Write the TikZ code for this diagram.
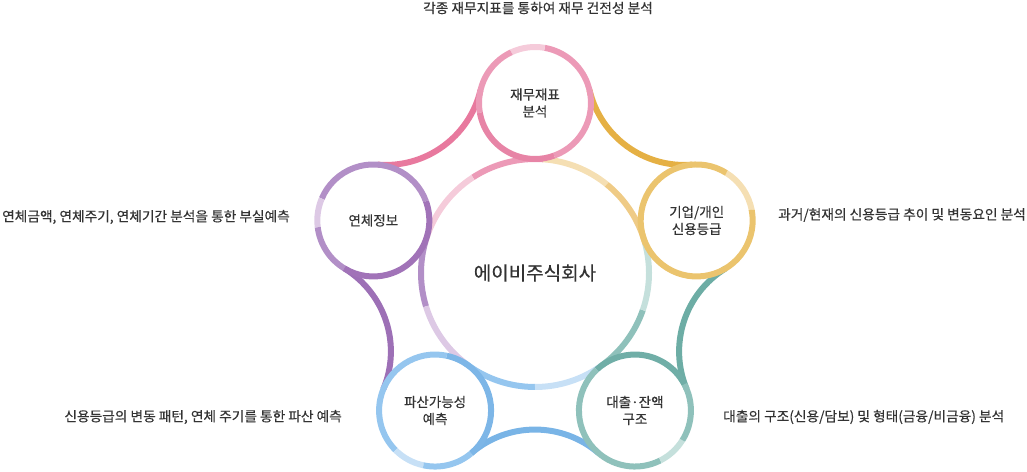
\documentclass[tikz,border=0pt]{standalone}
\usepackage{fontspec}
\setmainfont{Noto Sans CJK KR}[BoldFont={Noto Sans CJK KR},BoldFeatures={FakeBold=0.35}]
\definecolor{txt}{HTML}{333333}
% connectors
\definecolor{cpink}{HTML}{E8799E}
\definecolor{cgold}{HTML}{E5B044}
\definecolor{cteal}{HTML}{6DADA5}
\definecolor{cblue}{HTML}{79B4E6}
\definecolor{cpurp}{HTML}{9D70B6}
% ring shades
\definecolor{pkD}{HTML}{E784A6}
\definecolor{pkM}{HTML}{EC9AB7}
\definecolor{pkL}{HTML}{F5CBDA}
\definecolor{yeM}{HTML}{EBC46E}
\definecolor{yeC}{HTML}{EFCB86}
\definecolor{yeL}{HTML}{F5DFB3}
\definecolor{tlD}{HTML}{70AEA7}
\definecolor{tlM}{HTML}{8FC1BB}
\definecolor{tlL}{HTML}{C5E0DC}
\definecolor{blD}{HTML}{7DB6E7}
\definecolor{blM}{HTML}{95C6EF}
\definecolor{blL}{HTML}{C7E0F6}
\definecolor{puD}{HTML}{A173B8}
\definecolor{puM}{HTML}{B28FC7}
\definecolor{puL}{HTML}{DDC9E5}
\newcommand\rseg[5]{\draw[ring,draw=#5] (#1) ++(#3:#2) arc[start angle=#3,end angle=#4,radius=#2];}
\newcommand\conn[2]{\draw[ring,draw=#2] ($(O)+(#1:254)$) ++(#1+139.37:97.46) arc[start angle=#1+139.37,end angle=#1+220.63,radius=97.46];}
\usetikzlibrary{calc}
\begin{document}
\begin{tikzpicture}[x=1pt,y=1pt,line cap=butt,
  ring/.style={line width=6pt},
  sat/.style={text=txt,align=center,font=\fontsize{13.5}{17}\selectfont\bfseries},
  outer/.style={text=txt,font=\fontsize{13.7}{16}\selectfont\bfseries,inner sep=0pt}]
\useasboundingbox (0,0) rectangle (1027,471);
\begin{scope}[shift={(535,198)}]
\coordinate (O) at (0,0);
\coordinate (T) at (90:170);
\coordinate (R) at (18:170);
\coordinate (BR) at (-54:170);
\coordinate (BL) at (-126:170);
\coordinate (L) at (162:170);
% center ring
\rseg{O}{114}{51}{86}{yeL}
\rseg{O}{114}{86}{123}{pkM}
\rseg{O}{114}{123}{164}{pkL}
\rseg{O}{114}{164}{197}{puM}
\rseg{O}{114}{197}{232}{puL}
\rseg{O}{114}{232}{270}{blM}
\rseg{O}{114}{270}{306}{blL}
\rseg{O}{114}{306}{341}{tlM}
\rseg{O}{114}{341}{375}{tlL}
\rseg{O}{114}{15}{51}{yeC}
% connectors
\conn{126}{cpink}
\conn{54}{cgold}
\conn{-18}{cteal}
\conn{-90}{cblue}
\conn{198}{cpurp}
% top ring
\rseg{T}{56}{-70}{80}{pkM}
\rseg{T}{56}{80}{115}{pkL}
\rseg{T}{56}{115}{190}{pkM}
\rseg{T}{56}{190}{290}{pkD}
% right ring
\rseg{R}{56}{11}{58}{yeL}
\rseg{R}{56}{58}{371}{yeM}
% bottom-right ring
\rseg{BR}{56}{28}{133}{tlD}
\rseg{BR}{56}{133}{297}{tlM}
\rseg{BR}{56}{297}{328}{tlL}
\rseg{BR}{56}{328}{388}{tlM}
% bottom-left ring
\rseg{BL}{56}{-50}{78}{blD}
\rseg{BL}{56}{78}{225}{blM}
\rseg{BL}{56}{225}{258}{blL}
\rseg{BL}{56}{258}{310}{blM}
% left ring
\rseg{L}{56}{20}{157}{puM}
\rseg{L}{56}{157}{187}{puL}
\rseg{L}{56}{187}{239}{puM}
\rseg{L}{56}{239}{380}{puD}
% texts
\node[text=txt,font=\fontsize{19}{22}\selectfont\bfseries] (on) at (O) {에이비주식회사};
\node[sat] (tn) at (T) {재무재표\\분석};
\node[sat] (rn) at (R) {기업/개인\\신용등급};
\node[sat] (brn) at (BR) {대출·잔액\\구조};
\node[sat] (bln) at (BL) {파산가능성\\예측};
\node[sat] (ln) at (L) {연체정보};
\end{scope}
\node[outer] (tl) at (538,463) {각종 재무지표를 통하여 재무 건전성 분석};
\node[outer,anchor=east] (ll) at (290,254) {연체금액, 연체주기, 연체기간 분석을 통한 부실예측};
\node[outer,anchor=west] (rl) at (778,256) {과거/현재의 신용등급 추이 및 변동요인 분석};
\node[outer,anchor=east] (bll) at (342,54) {신용등급의 변동 패턴, 연체 주기를 통한 파산 예측};
\node[outer,anchor=west] (brl) at (723,54) {대출의 구조(신용/담보) 및 형태(금융/비금융) 분석};
\end{tikzpicture}
\end{document}
